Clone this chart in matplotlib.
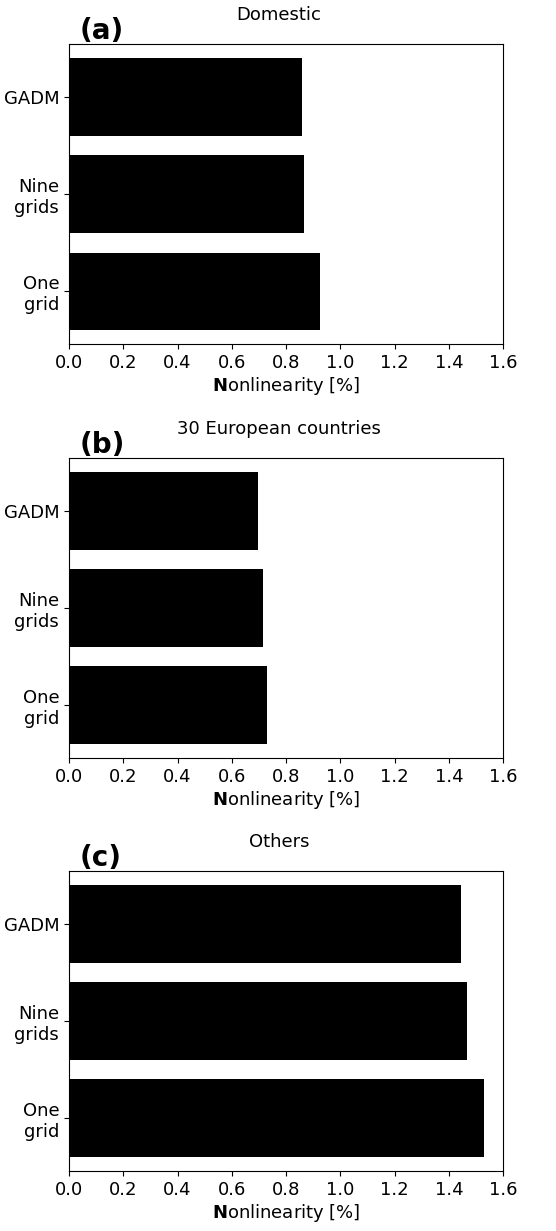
import matplotlib

matplotlib.use("Agg")
import matplotlib.pyplot as plt

categories = ["One\ngrid", "Nine\ngrids", "GADM"]
domestic = [0.924, 0.865, 0.859]
european = [0.730, 0.714, 0.696]
others = [1.528, 1.467, 1.445]

panels = [
    ("(a)", "Domestic", domestic),
    ("(b)", "30 European countries", european),
    ("(c)", "Others", others),
]
xticks = [0.0, 0.2, 0.4, 0.6, 0.8, 1.0, 1.2, 1.4, 1.6]

fig = plt.figure(figsize=(5.56, 12.31), dpi=100)
bottoms = [0.7205, 0.3842, 0.0487]

for (tag, title, vals), b in zip(panels, bottoms):
    ax = fig.add_axes([0.124, b, 0.781, 0.2437])
    ax.barh(range(len(categories)), vals, height=0.8, color="black")
    ax.set_yticks(range(len(categories)))
    ax.set_yticklabels(categories, fontsize=13)
    ax.set_xlim(0, 1.6)
    ax.set_xticks(xticks)
    ax.set_xticklabels([f"{t:.1f}" for t in xticks], fontsize=13)
    ax.set_xlabel(r"$\bf{N}$onlinearity [%]", fontsize=13, labelpad=2)
    ax.set_title(title, fontsize=13, pad=17, x=0.484)
    ax.text(0.025, 1.017, tag, transform=ax.transAxes, fontsize=20,
            fontweight="bold", ha="left", va="baseline")

fig.savefig("out.png", dpi=100)
